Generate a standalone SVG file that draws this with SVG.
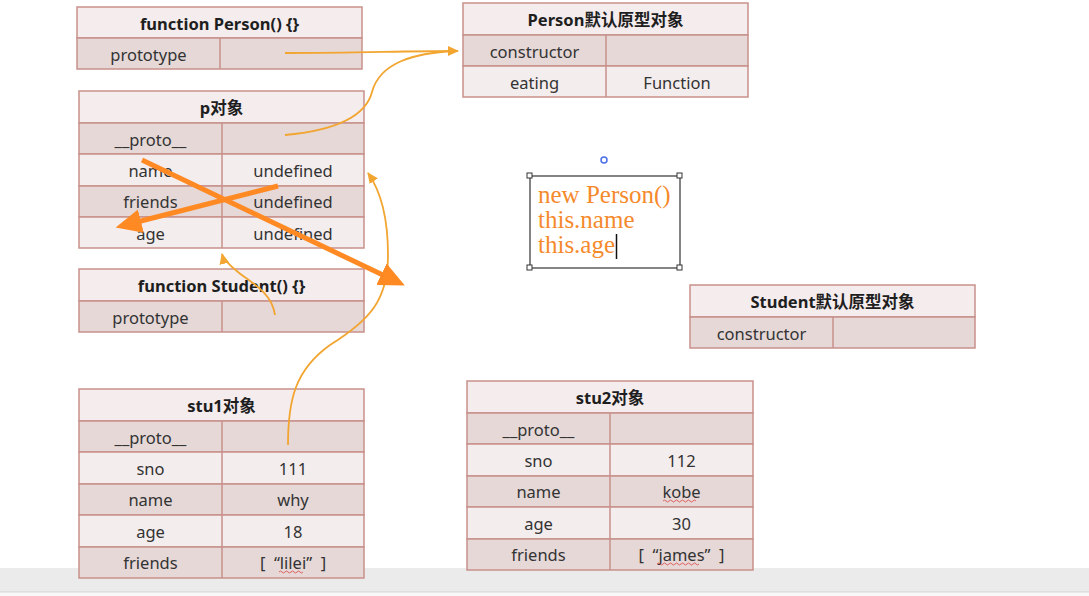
<svg xmlns="http://www.w3.org/2000/svg" width="1089" height="596" viewBox="0 0 1089 596">
<style>
.hd{fill:#f4eced;stroke:#c8918b;stroke-width:1.5}
.dk{fill:#e5d8d7;stroke:#c8918b;stroke-width:1.5}
.lt{fill:#f4eded;stroke:#c8918b;stroke-width:1.5}
.sp{stroke:#c8918b;stroke-width:1.5}
.ht{font-family:"Noto Sans","Noto Sans CJK SC",sans-serif;font-size:16.5px;font-weight:bold;fill:#1e1e1e;text-anchor:middle;dominant-baseline:central}
.ct{font-family:"Noto Sans","Noto Sans CJK SC",sans-serif;font-size:16.5px;fill:#333;text-anchor:middle;dominant-baseline:central}
.thin{fill:none;stroke:#f2a530;stroke-width:1.8}
.thick{fill:none;stroke:#ff8a24;stroke-width:5}
.sq{fill:none;stroke:#e04040;stroke-width:0.8}
.code{font-family:"Liberation Serif",serif;font-size:25px;fill:#f58a2c}
.hdl{fill:#fff;stroke:#333;stroke-width:1}
</style>
<defs>
<marker id="ta" markerUnits="userSpaceOnUse" markerWidth="12" markerHeight="10" refX="10" refY="5" orient="auto"><path d="M0,0 L11,5 L0,10 Z" fill="#f2a530"/></marker>
<marker id="tb" markerUnits="userSpaceOnUse" markerWidth="28" markerHeight="24" refX="4" refY="12" orient="auto"><path d="M0,0 L26,12 L0,24 Z" fill="#ff8a24"/></marker>
</defs>
<rect x="0" y="0" width="1089" height="596" fill="#ffffff"/>
<rect x="0" y="568" width="1089" height="24" fill="#ebebeb"/>
<line x1="0" y1="592" x2="1089" y2="592" stroke="#d2d2d2" stroke-width="1"/>
<rect x="0" y="593" width="1089" height="3" fill="#f8f8f8"/>

<g id="person-fn">
<rect class="hd" x="77" y="7" width="285" height="31"/>
<rect class="dk" x="77" y="38" width="285" height="31"/>
<line class="sp" x1="220" y1="38" x2="220" y2="69"/>
<text class="ht" x="219.5" y="23">function Person() {}</text>
<text class="ct" x="148.5" y="54">prototype</text>
</g>

<g id="person-proto">
<rect class="hd" x="463" y="3" width="285" height="32"/>
<rect class="dk" x="463" y="35" width="285" height="31"/>
<rect class="lt" x="463" y="66" width="285" height="31"/>
<line class="sp" x1="606" y1="35" x2="606" y2="97"/>
<text class="ht" x="605.5" y="19">Person默认原型对象</text>
<text class="ct" x="534.5" y="51">constructor</text>
<text class="ct" x="534.5" y="82">eating</text>
<text class="ct" x="677" y="82">Function</text>
</g>

<g id="p-obj">
<rect class="hd" x="79" y="91" width="285" height="32"/>
<rect class="dk" x="79" y="123" width="285" height="31"/>
<rect class="lt" x="79" y="154" width="285" height="32"/>
<rect class="dk" x="79" y="186" width="285" height="31"/>
<rect class="lt" x="79" y="217" width="285" height="31"/>
<line class="sp" x1="222" y1="123" x2="222" y2="248"/>
<text class="ht" x="221.5" y="107">p对象</text>
<text class="ct" x="150.5" y="139">__proto__</text>
<text class="ct" x="150.5" y="170">name</text>
<text class="ct" x="150.5" y="201.5">friends</text>
<text class="ct" x="150.5" y="233">age</text>
<text class="ct" x="293" y="170">undefined</text>
<text class="ct" x="293" y="201.5">undefined</text>
<text class="ct" x="293" y="233">undefined</text>
</g>

<g id="student-fn">
<rect class="hd" x="79" y="269" width="285" height="32"/>
<rect class="dk" x="79" y="301" width="285" height="31"/>
<line class="sp" x1="222" y1="301" x2="222" y2="332"/>
<text class="ht" x="221.5" y="285">function Student() {}</text>
<text class="ct" x="150.5" y="317">prototype</text>
</g>

<g id="stu1">
<rect class="hd" x="79" y="389" width="285" height="32"/>
<rect class="dk" x="79" y="421" width="285" height="31"/>
<rect class="lt" x="79" y="452" width="285" height="32"/>
<rect class="dk" x="79" y="484" width="285" height="31"/>
<rect class="lt" x="79" y="515" width="285" height="32"/>
<rect class="dk" x="79" y="547" width="285" height="31"/>
<line class="sp" x1="222" y1="421" x2="222" y2="578"/>
<text class="ht" x="221.5" y="405">stu1对象</text>
<text class="ct" x="150.5" y="437">__proto__</text>
<text class="ct" x="150.5" y="468">sno</text>
<text class="ct" x="150.5" y="499.5">name</text>
<text class="ct" x="150.5" y="531">age</text>
<text class="ct" x="150.5" y="562.5">friends</text>
<text class="ct" x="293" y="468">111</text>
<text class="ct" x="293" y="499.5">why</text>
<text class="ct" x="293" y="531">18</text>
<text class="ct" x="293" y="562.5">[ &#160;“lilei” &#160;]</text>
<path class="sq" d="M279,572 q1.5,-2 3,0 t3,0 t3,0 t3,0 t3,0 t3,0 t3,0 t3,0"/>
</g>

<g id="stu2">
<rect class="hd" x="467" y="381" width="286" height="32"/>
<rect class="dk" x="467" y="413" width="286" height="31"/>
<rect class="lt" x="467" y="444" width="286" height="32"/>
<rect class="dk" x="467" y="476" width="286" height="31"/>
<rect class="lt" x="467" y="507" width="286" height="32"/>
<rect class="dk" x="467" y="539" width="286" height="31"/>
<line class="sp" x1="610" y1="413" x2="610" y2="570"/>
<text class="ht" x="610" y="397">stu2对象</text>
<text class="ct" x="538.5" y="429">__proto__</text>
<text class="ct" x="538.5" y="460">sno</text>
<text class="ct" x="538.5" y="491.5">name</text>
<text class="ct" x="538.5" y="523">age</text>
<text class="ct" x="538.5" y="554.5">friends</text>
<text class="ct" x="681.5" y="460">112</text>
<text class="ct" x="681.5" y="491.5">kobe</text>
<text class="ct" x="681.5" y="523">30</text>
<text class="ct" x="681.5" y="554.5">[ &#160;“james” &#160;]</text>
<path class="sq" d="M663,501 q1.5,-2 3,0 t3,0 t3,0 t3,0 t3,0 t3,0 t3,0 t3,0 t3,0 t3,0 t3,0"/>
<path class="sq" d="M657,564 q1.5,-2 3,0 t3,0 t3,0 t3,0 t3,0 t3,0 t3,0 t3,0 t3,0 t3,0 t3,0 t3,0 t3,0 t3,0"/>
</g>

<g id="student-proto">
<rect class="hd" x="690" y="285" width="285" height="32"/>
<rect class="dk" x="690" y="317" width="285" height="31"/>
<line class="sp" x1="833" y1="317" x2="833" y2="348"/>
<text class="ht" x="832.5" y="301">Student默认原型对象</text>
<text class="ct" x="761.5" y="333">constructor</text>
</g>

<g id="note">
<circle cx="604" cy="160" r="3" fill="none" stroke="#4a6ee8" stroke-width="1.5"/>
<rect x="530" y="176" width="150" height="92" fill="#ffffff" stroke="#333" stroke-width="1.2"/>
<rect class="hdl" x="527" y="173" width="5" height="5"/>
<rect class="hdl" x="677" y="173" width="5" height="5"/>
<rect class="hdl" x="527" y="265" width="5" height="5"/>
<rect class="hdl" x="677" y="265" width="5" height="5"/>
<text class="code" x="538" y="203">new Person()</text>
<text class="code" x="538" y="228">this.name</text>
<text class="code" x="538" y="253">this.age</text>
<line x1="616.5" y1="234" x2="616.5" y2="259" stroke="#111" stroke-width="1.5"/>
</g>

<g id="connectors">
<path class="thin" d="M285,53 C360,53 400,51 458,51" marker-end="url(#ta)"/>
<path class="thin" d="M285,135 C340,130 366,115 372,92 C380,62 415,53 455,51"/>
<path class="thin" d="M288,445 C288,400 295,370 330,345 C370,320 388,300 388,255 C388,215 380,190 368,173" marker-end="url(#ta)"/>
<path class="thin" d="M275,315 C272,292 250,282 238,272 C228,264 223,258 222,254" marker-end="url(#ta)"/>
<path class="thick" d="M142,160 L385,276" marker-end="url(#tb)"/>
<path class="thick" d="M278,186 L137,222" marker-end="url(#tb)"/>
</g>
</svg>
